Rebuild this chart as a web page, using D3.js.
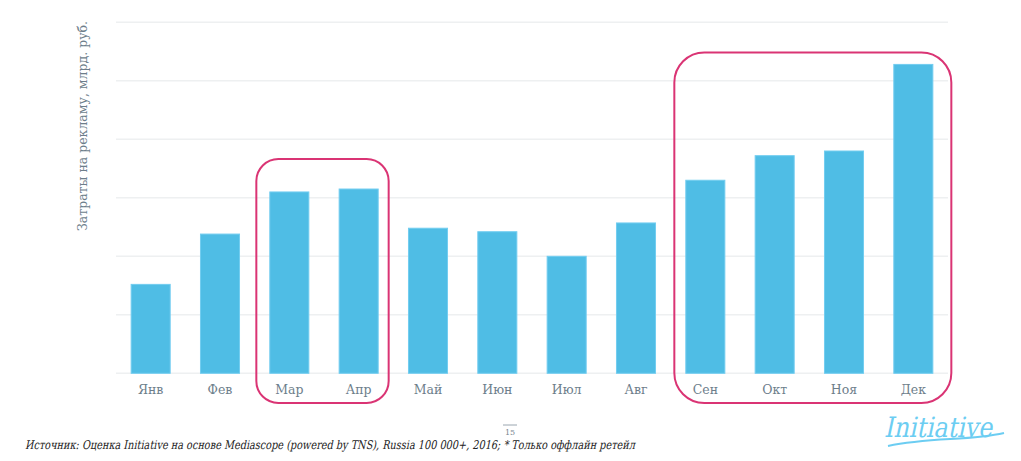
<!DOCTYPE html>
<html><head><meta charset="utf-8">
<script src="https://cdn.jsdelivr.net/npm/d3@7"></script>
<style>body{margin:0;background:#fff}svg{display:block}</style>
</head><body>
<svg id="c" width="1021" height="461"></svg>
<script>
const months = ["Янв","Фев","Мар","Апр","Май","Июн","Июл","Авг","Сен","Окт","Ноя","Дек"];
const spend = [1.52,2.38,3.10,3.15,2.48,2.42,2.00,2.57,3.30,3.72,3.80,5.28];
const gridTicks = [0,1,2,3,4,5,6];
const yLabel = "Затраты на рекламу, млрд. руб.";
const sourceText = "Источник: Оценка Initiative на основе Mediascope (powered by TNS), Russia 100 000+, 2016; * Только оффлайн ретейл";
const pageNum = "15";

const svg = d3.select("#c");
const x = d3.scaleBand().domain(months).range([116,948]).paddingInner(0.437).paddingOuter(0.2185);
const y = d3.scaleLinear().domain([0,6]).range([373.3,22.3]);

svg.append("g").selectAll("line").data(gridTicks).join("line")
  .attr("x1",116).attr("x2",948)
  .attr("y1",d=>y(d)).attr("y2",d=>y(d))
  .attr("stroke","#eef0f1").attr("stroke-width",1.5);

svg.append("g").selectAll("rect").data(spend).join("rect")
  .attr("x",(d,i)=>x(months[i]))
  .attr("y",d=>y(d))
  .attr("width",x.bandwidth())
  .attr("height",d=>y(0)-y(d))
  .attr("fill","#4fbde5")
  .attr("stroke","#72cdf0").attr("stroke-width",1);

const xa = svg.append("g").attr("transform",`translate(0,${y(0)})`)
  .call(d3.axisBottom(x).tickSize(0).tickPadding(12));
xa.select(".domain").remove();
xa.selectAll("text").attr("font-family","'DejaVu Serif', serif").attr("font-size",12.5).attr("fill","#6d7e8b");

const c = m => x(m)+x.bandwidth()/2;
const boxes = [
  {l:c("Мар")-33, r:c("Апр")+30, t:y(d3.max(spend.slice(2,4)))-30, b:403, rx:22},
  {l:c("Сен")-31, r:c("Дек")+38, t:y(spend[11])-12, b:403, rx:30}
];
svg.append("g").selectAll("rect").data(boxes).join("rect")
  .attr("x",d=>d.l).attr("y",d=>d.t).attr("width",d=>d.r-d.l).attr("height",d=>d.b-d.t)
  .attr("rx",d=>d.rx).attr("ry",d=>d.rx)
  .attr("fill","none").attr("stroke","#da3474").attr("stroke-width",2);

svg.append("text").attr("transform","translate(87,126) rotate(-90)")
  .attr("text-anchor","middle").attr("font-family","'DejaVu Serif', serif").attr("font-size",12.5)
  .attr("fill","#6d7e8b").text(yLabel);

svg.append("line").attr("x1",503).attr("x2",517).attr("y1",425).attr("y2",425).attr("stroke","#9aa6b0").attr("stroke-width",1);
svg.append("text").attr("x",510).attr("y",435).attr("text-anchor","middle")
  .attr("font-family","'DejaVu Serif', serif").attr("font-size",8).attr("fill","#7a8691").text(pageNum);

svg.append("g").attr("transform","translate(25,449) skewX(-12)").append("text")
  .attr("x",0).attr("y",0)
  .attr("font-family","'DejaVu Serif', serif").attr("font-size",12)
  .attr("fill","#222").attr("textLength",610).attr("lengthAdjust","spacingAndGlyphs").text(sourceText);

const logo = svg.append("g").attr("transform","translate(938,437) skewX(-12)");
logo.append("text").attr("x",0).attr("y",0).attr("text-anchor","middle")
  .attr("font-family","'DejaVu Serif', serif").attr("font-size",28)
  .attr("fill","#6ccdf2").attr("textLength",108).attr("lengthAdjust","spacingAndGlyphs").text("Initiative");
svg.append("path").attr("d","M888,446 C930,437 970,441 1004,433")
  .attr("fill","none").attr("stroke","#6ccdf2").attr("stroke-width",2);
</script>
</body></html>
